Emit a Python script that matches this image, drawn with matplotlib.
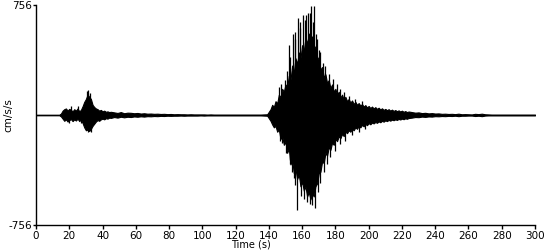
import numpy as np
import matplotlib.pyplot as plt

# envelope of the accelerogram (cm/s/s)
pre_t = [0, 14]
pre_top = [2, 2]
pre_bot = [-2, -2]

ev1_t = list(range(15, 46))
ev1_top = [10, 30, 40, 45, 30, 42, 35, 25, 40, 30, 45, 25, 35, 60, 90, 110,
           140, 125, 110, 70, 55, 45, 40, 30, 35, 25, 30, 22, 25, 20, 22]
ev1_bot = [-10, -25, -40, -30, -45, -35, -28, -42, -30, -38, -25, -42, -30, -55, -85, -105,
           -100, -110, -95, -75, -60, -45, -35, -40, -30, -25, -30, -22, -25, -18, -20]

tail1_t = list(range(47, 140, 2))
tail1_top = [18, 14, 20, 12, 16, 15, 12, 14, 10, 12, 9, 10, 8, 9, 7, 8,
             6, 7, 5, 6, 5, 5, 4, 5, 4, 4, 4, 4, 3, 4, 3, 3,
             3, 3, 3, 3, 3, 3, 3, 3, 3, 3, 3, 3, 3, 4, 5]
tail1_bot = [-14, -18, -12, -16, -12, -14, -10, -12, -9, -11, -8, -9, -7, -8, -6, -7,
             -5, -6, -5, -5, -4, -5, -4, -4, -4, -4, -3, -4, -3, -3, -3, -3,
             -3, -3, -3, -3, -3, -3, -3, -3, -3, -3, -3, -3, -3, -4, -5]

ev2_t = list(range(141, 225))
ev2_top = [40, 70, 55, 95, 80, 140, 120, 180, 160, 210, 190, 270, 240, 340, 290, 390,
           350, 430, 390, 480, 440, 530, 490, 560, 520, 540, 480, 460, 400, 380, 310, 330,
           260, 280, 220, 240, 185, 210, 160, 180, 140, 160, 120, 140, 105, 125, 95, 110,
           85, 100, 75, 90, 70, 82, 65, 75, 58, 68, 52, 62, 48, 58, 45, 54,
           42, 50, 38, 46, 35, 42, 33, 40, 30, 37, 28, 34, 26, 32, 24, 30,
           22, 27, 20, 24]
ev2_bot = [-40, -65, -85, -75, -115, -100, -165, -145, -205, -185, -260, -230, -340, -310, -400, -370,
           -440, -410, -490, -460, -520, -490, -560, -530, -580, -540, -560, -490, -470, -400, -390, -320,
           -330, -260, -280, -220, -240, -190, -205, -165, -180, -145, -160, -130, -145, -115, -125, -105,
           -115, -95, -105, -85, -95, -75, -85, -68, -78, -62, -70, -56, -64, -52, -58, -48,
           -54, -44, -50, -40, -46, -37, -42, -34, -39, -32, -36, -30, -34, -27, -31, -25,
           -29, -23, -26, -21]

tail2_t = list(range(226, 301, 2))
tail2_top = [20, 16, 18, 13, 15, 11, 13, 10, 11, 8, 9, 7, 8, 6, 9, 5,
             6, 5, 4, 8, 6, 9, 5, 4, 3, 3, 3, 3, 3, 3, 3, 3,
             3, 3, 3, 3, 3, 3]
tail2_bot = [-18, -14, -15, -11, -13, -10, -11, -8, -9, -7, -8, -6, -7, -5, -8, -5,
             -5, -4, -4, -7, -5, -8, -4, -3, -3, -3, -3, -3, -3, -3, -3, -3,
             -3, -3, -3, -3, -3, -3]

# single peaks sticking out of the envelope
spike_t = [21, 25.5, 30.5, 31.5, 32.5, 20, 27, 31, 33,
           146, 147.5, 149.5, 151, 152, 153, 154.5, 155.5, 156, 157.5, 158.5, 159, 160.5,
           161.5, 162.5, 163.5, 164.5, 165.2, 166.5, 167.4, 168.5, 169, 170, 171, 172.5,
           174, 176, 178.5, 181, 183, 185, 188, 192, 196,
           146.5, 148, 150.5, 152.5, 153, 154, 155, 156, 157.2, 159.5, 161, 163, 164.5,
           166, 168, 169.5, 171, 173, 175, 177, 180, 183, 186, 190, 194, 198]
spike_v = [60, 60, 165, 170, 150, -55, -55, -115, -120,
           190, 210, 240, 300, 480, 400, 560, 520, 570, 665, 600, 640, 690,
           650, 690, 700, 700, 750, 640, 750, 560, 520, 450, 430, 360,
           340, 280, 250, 210, 180, 160, 130, 110, 95,
           -180, -195, -260, -310, -340, -390, -430, -480, -655, -560, -580, -600, -610,
           -620, -640, -530, -470, -390, -340, -290, -250, -200, -180, -140, -120, -95]

assert len(ev2_t) == len(ev2_top) == len(ev2_bot)
assert len(spike_t) == len(spike_v)

t = pre_t + ev1_t + tail1_t + ev2_t + tail2_t
top = pre_top + ev1_top + tail1_top + ev2_top + tail2_top
bot = pre_bot + ev1_bot + tail1_bot + ev2_bot + tail2_bot

fig = plt.figure(figsize=(5.5, 2.5), dpi=100)
ax = fig.add_axes([36 / 550, 0.1, 499 / 550, 0.88])

ax.fill_between(t, bot, top, color='black', linewidth=0.8)
ax.vlines(spike_t, 0, spike_v, color='black', linewidth=0.9)

ax.set_xlim(0, 300)
ax.set_ylim(-756, 756)
ax.set_xticks(np.arange(0, 301, 20))
ax.set_yticks([-756, 756])
ax.set_yticklabels(['-756', '756'])
for s in ['top', 'right']:
    ax.spines[s].set_visible(False)
for s in ['left', 'bottom']:
    ax.spines[s].set_linewidth(1.0)
ax.tick_params(axis='both', labelsize=7.5, length=3, width=1.0, pad=1)
ax.tick_params(axis='y', length=2)

ax.set_xlabel('Time (s)', fontsize=7, labelpad=0)
ax.xaxis.set_label_coords((251 - 36) / 499, -0.066)
ax.set_ylabel('cm/s/s', fontsize=7.5)
ax.yaxis.set_label_coords(-0.045, 0.5)

plt.savefig('out.png', dpi=100)
